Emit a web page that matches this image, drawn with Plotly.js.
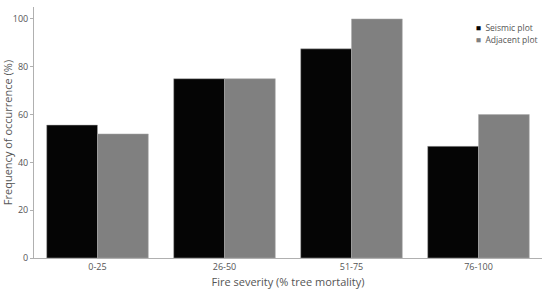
<!DOCTYPE html>
<html>
<head>
<meta charset="utf-8">
<script src="https://cdn.plot.ly/plotly-3.0.1.min.js"></script>
<style>
  html, body { margin: 0; padding: 0; background: #fff; }
  #chart { width: 550px; height: 292px; }
</style>
</head>
<body>
<div id="chart"></div>
<script>
// fire severity classes and frequency of occurrence (%)
const severityClasses = ['0-25', '26-50', '51-75', '76-100'];
const seismicValues = [55.6, 75, 87.5, 46.7];
const adjacentValues = [51.9, 75, 100, 60];
const seriesNames = ['Seismic plot', 'Adjacent plot'];
const seriesColors = ['#050505', '#808080'];

const axisColor = '#b0b0b0';
const textColor = '#555';

const bars = [seismicValues, adjacentValues].map((vals, i) => ({
    type: 'bar',
    name: seriesNames[i],
    x: severityClasses,
    y: vals,
    showlegend: false,
    marker: { color: seriesColors[i], line: { color: '#aaa', width: 0.5 } }
}));

// legend keys: the little square is part of the label so it sits close to the text,
// one legend per entry so the rows stay tight
const keys = seriesNames.map((name, i) => ({
    type: 'scatter',
    mode: 'markers',
    name: '<span style="color:' + seriesColors[i] + '">■</span>&nbsp; ' + name,
    x: [null],
    y: [null],
    legend: i === 0 ? 'legend' : 'legend2',
    marker: { symbol: 'square', size: 1, color: 'rgba(0,0,0,0)' }
}));

function legendAt(y) {
    return {
        x: 0.791, y: y, xanchor: 'left', yanchor: 'middle',
        font: { family: 'Open Sans, sans-serif', size: 8.5, color: textColor },
        bgcolor: 'rgba(0,0,0,0)',
        itemwidth: 30
    };
}

const layout = {
    width: 550,
    height: 292,
    font: { family: 'Open Sans, sans-serif', size: 10, color: textColor },
    paper_bgcolor: '#fff',
    plot_bgcolor: '#fff',
    margin: { t: 7, r: 8, b: 34, l: 34 },
    barmode: 'group',
    bargap: 0.2,
    bargroupgap: 0,
    showlegend: true,
    legend: legendAt(0.916),
    legend2: legendAt(0.869),
    xaxis: {
        showline: true, linecolor: axisColor, linewidth: 1,
        ticks: '', showgrid: false, zeroline: false,
        tickfont: { size: 9, color: textColor },
        title: { text: 'Fire severity (% tree mortality)', font: { size: 11, color: textColor }, standoff: 6 }
    },
    yaxis: {
        range: [0, 105],
        tickvals: [0, 20, 40, 60, 80, 100],
        showline: true, linecolor: axisColor, linewidth: 1,
        ticks: 'outside', ticklen: 3, tickcolor: axisColor,
        showgrid: false, zeroline: false,
        tickfont: { size: 9, color: textColor },
        title: { text: 'Frequency of occurrence (%)', font: { size: 11, color: textColor }, standoff: 4 }
    }
};

Plotly.newPlot('chart', bars.concat(keys), layout, { displayModeBar: false, staticPlot: true });
</script>
</body>
</html>
